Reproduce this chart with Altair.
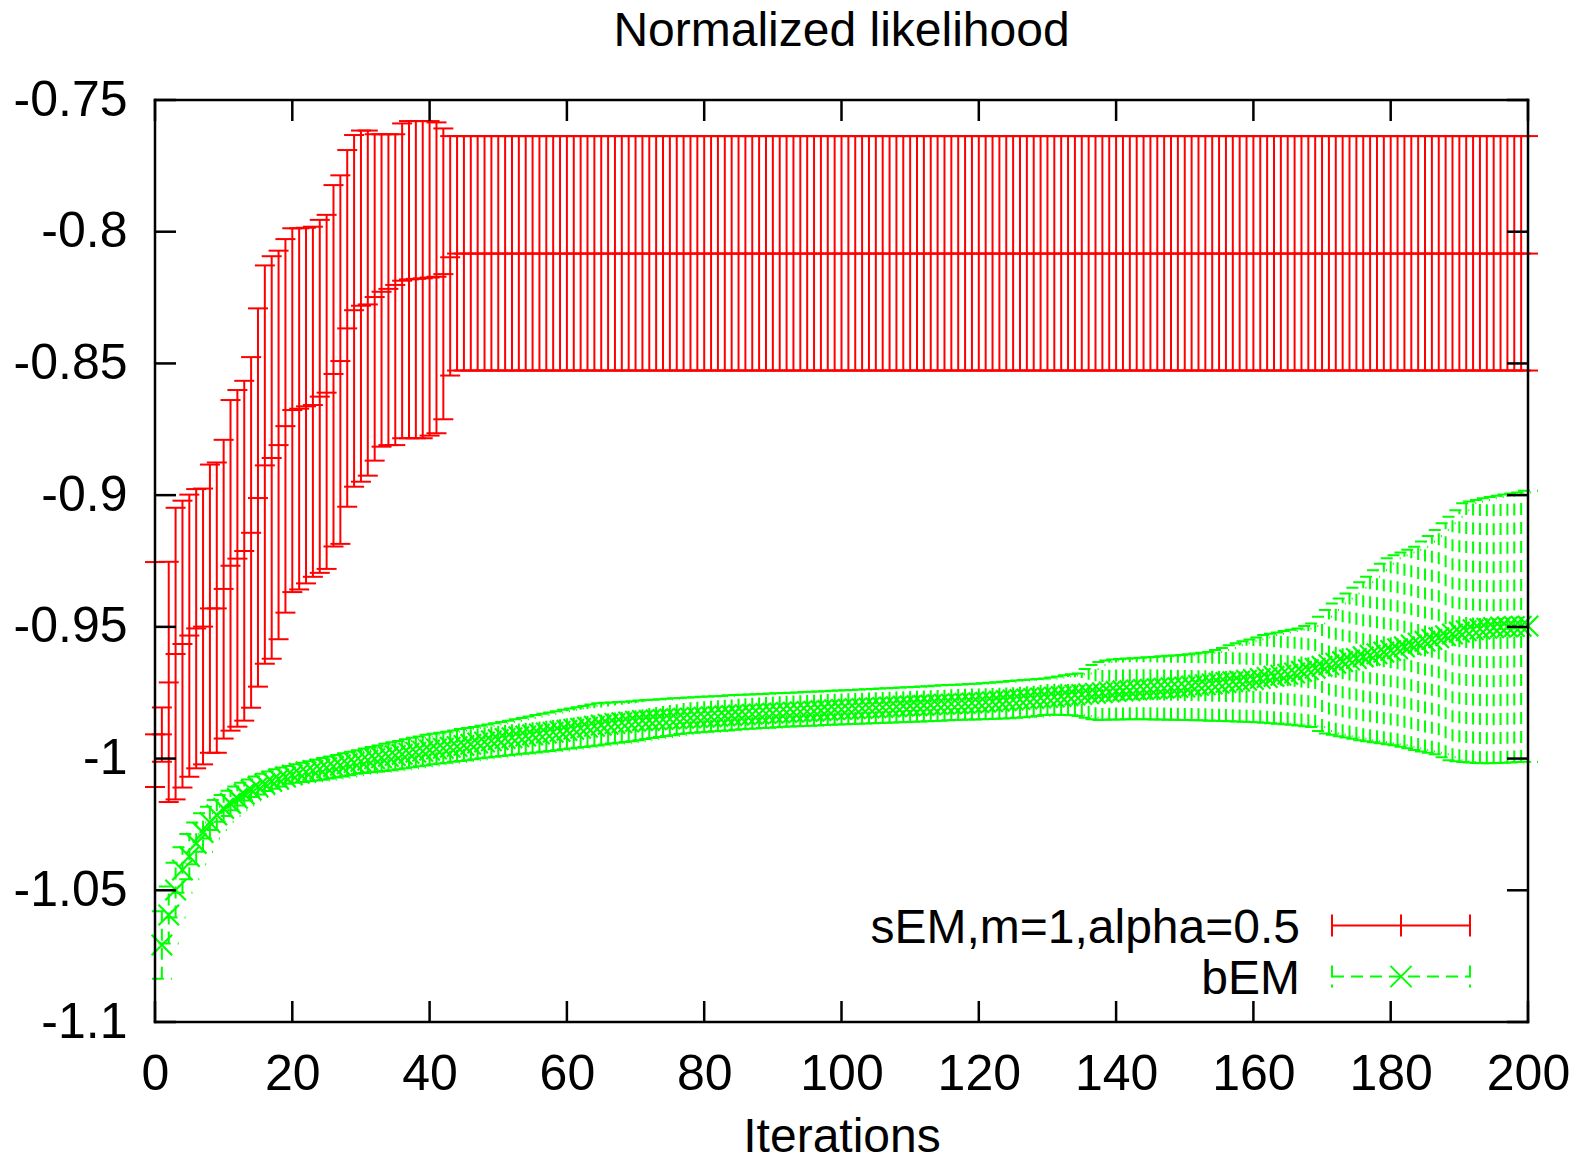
import altair as alt
import pandas as pd

FONT = "Liberation Sans"
RED = "#ff0000"
GREEN = "#00ff00"
TITLE = "Normalized likelihood"
X_TITLE = "Iterations"
SERIES = ["sEM,m=1,alpha=0.5", "bEM"]

X_TICKS = [0, 20, 40, 60, 80, 100, 120, 140, 160, 180, 200]
Y_TICKS = [-1.1, -1.05, -1.0, -0.95, -0.9, -0.85, -0.8, -0.75]
Y_TICK_LABELS = ["-1.1", "-1.05", "-1", "-0.95", "-0.9", "-0.85", "-0.8", "-0.75"]

# ---- sEM (red), iterations 0..200 ----
SEM_ITER = list(range(0, 201))
SEM_MEAN = [
    -0.9908, -0.9908, -0.9711, -0.9603, -0.9565, -0.9533, -0.9506, -0.9499, -0.9430, -0.9430,
    -0.9356, -0.9268, -0.9241, -0.9212, -0.9143, -0.9011, -0.8887, -0.8859, -0.8810, -0.8738,
    -0.8677, -0.8672, -0.8663, -0.8658, -0.8626, -0.8611, -0.8540, -0.8491, -0.8367, -0.8298,
    -0.8281, -0.8276, -0.8248, -0.8228, -0.8217, -0.8202, -0.8186, -0.8181, -0.8179, -0.8177,
    -0.8174, -0.8171, -0.8161, -0.8097,
] + [-0.8083] * 157
SEM_HI = [
    -0.9254, -0.9806, -0.9253, -0.9048, -0.9021, -0.8998, -0.8977, -0.8975, -0.8884, -0.8876,
    -0.8790, -0.8639, -0.8601, -0.8566, -0.8476, -0.8291, -0.8128, -0.8093, -0.8072, -0.8028,
    -0.7987, -0.7987, -0.7985, -0.7981, -0.7955, -0.7936, -0.7823, -0.7786, -0.7690, -0.7633,
    -0.7616, -0.7616, -0.7630, -0.7630, -0.7630, -0.7630, -0.7589, -0.7580, -0.7580, -0.7580,
    -0.7580, -0.7585, -0.7608,
] + [-0.7637] * 158
SEM_LO = [
    -1.0108, -1.0012, -1.0165, -1.0155, -1.0110, -1.0069, -1.0037, -1.0022, -0.9978, -0.9978,
    -0.9924, -0.9894, -0.9879, -0.9856, -0.9807, -0.9727, -0.9640, -0.9621, -0.9547, -0.9446,
    -0.9368, -0.9358, -0.9335, -0.9310, -0.9295, -0.9280, -0.9195, -0.9185, -0.9044, -0.8968,
    -0.8949, -0.8926, -0.8869, -0.8816, -0.8810, -0.8810, -0.8784, -0.8784, -0.8784, -0.8784,
    -0.8774, -0.8765, -0.8712, -0.8546,
] + [-0.8527] * 157

# ---- bEM (green), iterations 1..200 ----
BEM_ITER = list(range(1, 201))
BEM_MEAN = [
    -1.0708, -1.0594, -1.0499, -1.0423, -1.0372, -1.0322, -1.0281, -1.0243, -1.0214, -1.0189,
    -1.0170, -1.0151, -1.0135, -1.0119, -1.0107, -1.0097, -1.0086, -1.0078, -1.0070, -1.0062,
    -1.0056, -1.0051, -1.0045, -1.0040, -1.0035, -1.0030, -1.0025, -1.0020, -1.0015, -1.0010,
    -1.0006, -1.0001, -0.9997, -0.9992, -0.9988, -0.9984, -0.9980, -0.9976, -0.9972, -0.9968,
    -0.9964, -0.9961, -0.9957, -0.9954, -0.9950, -0.9946, -0.9941, -0.9937, -0.9932, -0.9928,
    -0.9924, -0.9921, -0.9917, -0.9914, -0.9910, -0.9907, -0.9903, -0.9900, -0.9896, -0.9893,
    -0.9889, -0.9885, -0.9881, -0.9877, -0.9873, -0.9870, -0.9867, -0.9864, -0.9861, -0.9858,
    -0.9856, -0.9855, -0.9853, -0.9852, -0.9850, -0.9849, -0.9847, -0.9846, -0.9844, -0.9843,
    -0.9841, -0.9840, -0.9838, -0.9837, -0.9835, -0.9834, -0.9832, -0.9831, -0.9829, -0.9828,
    -0.9827, -0.9825, -0.9824, -0.9822, -0.9821, -0.9820, -0.9818, -0.9817, -0.9815, -0.9814,
    -0.9813, -0.9811, -0.9810, -0.9808, -0.9807, -0.9806, -0.9804, -0.9803, -0.9801, -0.9800,
    -0.9799, -0.9798, -0.9797, -0.9795, -0.9794, -0.9793, -0.9792, -0.9791, -0.9789, -0.9788,
    -0.9786, -0.9784, -0.9782, -0.9780, -0.9778, -0.9776, -0.9774, -0.9772, -0.9770, -0.9768,
    -0.9766, -0.9764, -0.9761, -0.9759, -0.9757, -0.9754, -0.9752, -0.9750, -0.9747, -0.9745,
    -0.9743, -0.9742, -0.9740, -0.9738, -0.9737, -0.9735, -0.9733, -0.9731, -0.9730, -0.9728,
    -0.9725, -0.9722, -0.9720, -0.9717, -0.9714, -0.9711, -0.9708, -0.9706, -0.9703, -0.9700,
    -0.9696, -0.9692, -0.9688, -0.9684, -0.9680, -0.9675, -0.9669, -0.9663, -0.9657, -0.9650,
    -0.9644, -0.9638, -0.9632, -0.9626, -0.9620, -0.9614, -0.9608, -0.9602, -0.9596, -0.9590,
    -0.9583, -0.9576, -0.9569, -0.9562, -0.9555, -0.9548, -0.9541, -0.9534, -0.9527, -0.9520,
    -0.9515, -0.9511, -0.9508, -0.9505, -0.9503, -0.9501, -0.9500, -0.9499, -0.9498, -0.9497,
]
BEM_HI = [
    -1.0580, -1.0486, -1.0395, -1.0337, -1.0286, -1.0243, -1.0208, -1.0183, -1.0157, -1.0138,
    -1.0122, -1.0106, -1.0092, -1.0079, -1.0068, -1.0058, -1.0049, -1.0041, -1.0034, -1.0028,
    -1.0022, -1.0016, -1.0010, -1.0004, -0.9998, -0.9992, -0.9986, -0.9980, -0.9974, -0.9968,
    -0.9962, -0.9956, -0.9950, -0.9944, -0.9938, -0.9933, -0.9927, -0.9921, -0.9916, -0.9910,
    -0.9906, -0.9902, -0.9898, -0.9893, -0.9888, -0.9884, -0.9880, -0.9875, -0.9871, -0.9866,
    -0.9861, -0.9856, -0.9851, -0.9846, -0.9840, -0.9835, -0.9830, -0.9825, -0.9820, -0.9815,
    -0.9810, -0.9805, -0.9800, -0.9795, -0.9790, -0.9788, -0.9787, -0.9785, -0.9784, -0.9782,
    -0.9780, -0.9778, -0.9777, -0.9775, -0.9773, -0.9771, -0.9770, -0.9768, -0.9767, -0.9765,
    -0.9764, -0.9763, -0.9762, -0.9760, -0.9759, -0.9758, -0.9757, -0.9756, -0.9755, -0.9753,
    -0.9752, -0.9751, -0.9750, -0.9749, -0.9747, -0.9746, -0.9745, -0.9744, -0.9743, -0.9742,
    -0.9741, -0.9740, -0.9738, -0.9737, -0.9736, -0.9734, -0.9733, -0.9732, -0.9730, -0.9729,
    -0.9728, -0.9726, -0.9725, -0.9724, -0.9722, -0.9721, -0.9720, -0.9719, -0.9717, -0.9716,
    -0.9714, -0.9712, -0.9710, -0.9708, -0.9706, -0.9704, -0.9702, -0.9700, -0.9698, -0.9696,
    -0.9692, -0.9688, -0.9684, -0.9680, -0.9677, -0.9660, -0.9645, -0.9633, -0.9628, -0.9624,
    -0.9622, -0.9620, -0.9619, -0.9617, -0.9615, -0.9614, -0.9612, -0.9610, -0.9609, -0.9607,
    -0.9604, -0.9601, -0.9598, -0.9595, -0.9588, -0.9580, -0.9570, -0.9562, -0.9555, -0.9548,
    -0.9540, -0.9531, -0.9526, -0.9521, -0.9516, -0.9511, -0.9506, -0.9497, -0.9487, -0.9462,
    -0.9436, -0.9411, -0.9392, -0.9373, -0.9352, -0.9331, -0.9310, -0.9285, -0.9260, -0.9240,
    -0.9228, -0.9218, -0.9207, -0.9196, -0.9176, -0.9155, -0.9132, -0.9107, -0.9082, -0.9057,
    -0.9031, -0.9024, -0.9018, -0.9012, -0.9007, -0.9002, -0.8998, -0.8994, -0.8990, -0.8983,
]
BEM_LO = [
    -1.0836, -1.0702, -1.0603, -1.0509, -1.0458, -1.0401, -1.0354, -1.0303, -1.0271, -1.0240,
    -1.0218, -1.0196, -1.0178, -1.0159, -1.0146, -1.0136, -1.0123, -1.0115, -1.0106, -1.0096,
    -1.0092, -1.0089, -1.0086, -1.0083, -1.0080, -1.0076, -1.0072, -1.0068, -1.0063, -1.0058,
    -1.0055, -1.0052, -1.0050, -1.0047, -1.0044, -1.0041, -1.0037, -1.0033, -1.0029, -1.0026,
    -1.0022, -1.0019, -1.0016, -1.0012, -1.0009, -1.0006, -1.0003, -0.9999, -0.9996, -0.9993,
    -0.9990, -0.9987, -0.9985, -0.9982, -0.9980, -0.9977, -0.9974, -0.9971, -0.9968, -0.9965,
    -0.9962, -0.9959, -0.9956, -0.9953, -0.9950, -0.9947, -0.9943, -0.9940, -0.9937, -0.9934,
    -0.9930, -0.9926, -0.9922, -0.9918, -0.9914, -0.9911, -0.9907, -0.9904, -0.9902, -0.9900,
    -0.9898, -0.9896, -0.9894, -0.9893, -0.9891, -0.9889, -0.9887, -0.9886, -0.9884, -0.9883,
    -0.9881, -0.9879, -0.9878, -0.9877, -0.9876, -0.9875, -0.9874, -0.9873, -0.9872, -0.9871,
    -0.9870, -0.9869, -0.9868, -0.9867, -0.9866, -0.9865, -0.9864, -0.9863, -0.9862, -0.9861,
    -0.9860, -0.9859, -0.9858, -0.9857, -0.9856, -0.9855, -0.9854, -0.9853, -0.9852, -0.9852,
    -0.9851, -0.9850, -0.9849, -0.9848, -0.9847, -0.9845, -0.9843, -0.9841, -0.9838, -0.9835,
    -0.9834, -0.9834, -0.9835, -0.9836, -0.9838, -0.9845, -0.9851, -0.9854, -0.9853, -0.9852,
    -0.9852, -0.9851, -0.9851, -0.9851, -0.9851, -0.9852, -0.9852, -0.9853, -0.9853, -0.9854,
    -0.9854, -0.9855, -0.9855, -0.9856, -0.9856, -0.9857, -0.9858, -0.9859, -0.9860, -0.9861,
    -0.9862, -0.9864, -0.9866, -0.9868, -0.9870, -0.9872, -0.9874, -0.9877, -0.9880, -0.9895,
    -0.9905, -0.9910, -0.9915, -0.9920, -0.9925, -0.9930, -0.9934, -0.9938, -0.9942, -0.9946,
    -0.9949, -0.9955, -0.9961, -0.9967, -0.9973, -0.9978, -0.9984, -0.9995, -1.0006, -1.0010,
    -1.0013, -1.0015, -1.0017, -1.0018, -1.0018, -1.0017, -1.0016, -1.0015, -1.0013, -1.0012,
]

assert len(SEM_MEAN) == len(SEM_HI) == len(SEM_LO) == len(SEM_ITER)
assert len(BEM_MEAN) == len(BEM_HI) == len(BEM_LO) == len(BEM_ITER)

# ---- layout (pixels) ----
W, H = 1373, 922
TICK = 21
DASH = [12, 7]
XPATH = "M-1,-1L1,1M-1,1L1,-1"
TICK_FS = 50
TEXT_FS = 48

sem = pd.DataFrame({"iter": SEM_ITER, "mean": SEM_MEAN, "lo": SEM_LO, "hi": SEM_HI})
bem = pd.DataFrame({"iter": BEM_ITER, "mean": BEM_MEAN, "lo": BEM_LO, "hi": BEM_HI})
sem_caps = sem.melt(id_vars="iter", value_vars=["lo", "mean", "hi"], value_name="v")
bem_caps = bem.melt(id_vars="iter", value_vars=["lo", "hi"], value_name="v")

ylab_expr = "''"
for v, lab in zip(Y_TICKS, Y_TICK_LABELS):
    ylab_expr = f"abs(datum.value - ({v})) < 1e-6 ? '{lab}' : " + ylab_expr

XSCALE = alt.Scale(domain=[0, 200], nice=False, zero=False)
YSCALE = alt.Scale(domain=[-1.1, -0.75], nice=False, zero=False)
XAXIS = alt.Axis(values=X_TICKS, format="d", ticks=False, tickSize=0, domain=False, grid=False,
                 labelFont=FONT, labelFontSize=TICK_FS, labelColor="black", labelPadding=27,
                 labelFlush=False, labelOverlap=False,
                 titleFont=FONT, titleFontSize=TEXT_FS, titleFontWeight="normal", titleColor="black",
                 titleBaseline="alphabetic", titleY=129)
YAXIS = alt.Axis(values=Y_TICKS, labelExpr=ylab_expr, ticks=False, tickSize=0, domain=False, grid=False,
                 labelFont=FONT, labelFontSize=TICK_FS, labelColor="black", labelPadding=28,
                 labelFlush=False, labelOverlap=False)


def xenc(field):
    return alt.X(f"{field}:Q", scale=XSCALE, axis=XAXIS, title=X_TITLE)


def yenc(field):
    return alt.Y(f"{field}:Q", scale=YSCALE, axis=YAXIS, title="")


# red error bars
red_bars = alt.Chart(sem).mark_rule(color=RED, strokeWidth=2).encode(
    x=xenc("iter"), y=yenc("lo"), y2="hi:Q")
red_caps = alt.Chart(sem_caps).mark_rule(color=RED, strokeWidth=2, xOffset=-10, x2Offset=10).encode(
    x=xenc("iter"), x2="iter:Q", y=yenc("v"))

# green error bars
green_bars = alt.Chart(bem).mark_rule(color=GREEN, strokeWidth=2, strokeDash=DASH).encode(
    x=xenc("iter"), y=yenc("lo"), y2="hi:Q")
green_caps = alt.Chart(bem_caps).mark_rule(color=GREEN, strokeWidth=2, strokeDash=DASH,
                                           xOffset=-10, x2Offset=10).encode(
    x=xenc("iter"), x2="iter:Q", y=yenc("v"))
green_pts = alt.Chart(bem).mark_point(shape=XPATH, filled=False, size=420, strokeWidth=2.2,
                                      color=GREEN, opacity=1).encode(
    x=xenc("iter"), y=yenc("mean"))

# frame (drawn above the data) and inward tick marks on all four sides
one = pd.DataFrame({"k": [0]})
frame_style = dict(color="black", strokeWidth=2.5, strokeCap="square")
frame = [
    alt.Chart(one).mark_rule(**frame_style).encode(x=alt.value(0), y=alt.value(0), y2=alt.value(H)),
    alt.Chart(one).mark_rule(**frame_style).encode(x=alt.value(W), y=alt.value(0), y2=alt.value(H)),
    alt.Chart(one).mark_rule(**frame_style).encode(y=alt.value(0), x=alt.value(0), x2=alt.value(W)),
    alt.Chart(one).mark_rule(**frame_style).encode(y=alt.value(H), x=alt.value(0), x2=alt.value(W)),
]
ytk = pd.DataFrame({"v": Y_TICKS})
xtk = pd.DataFrame({"v": X_TICKS})
tick_style = dict(color="black", strokeWidth=2.5)
ticks = [
    alt.Chart(ytk).mark_rule(**tick_style).encode(y=yenc("v"), x=alt.value(0), x2=alt.value(TICK)),
    alt.Chart(ytk).mark_rule(**tick_style).encode(y=yenc("v"), x=alt.value(W - TICK), x2=alt.value(W)),
    alt.Chart(xtk).mark_rule(**tick_style).encode(x=xenc("v"), y=alt.value(H - TICK), y2=alt.value(H)),
    alt.Chart(xtk).mark_rule(**tick_style).encode(x=xenc("v"), y=alt.value(0), y2=alt.value(TICK)),
]

# chart title, centred over the plot area
title_layer = alt.Chart(pd.DataFrame({"t": [TITLE]})).mark_text(
    align="center", baseline="alphabetic", font=FONT, fontSize=TEXT_FS, color="black").encode(
    x=alt.value(W / 2), y=alt.value(-54), text="t:N")

# legend (drawn inside plot, bottom-right)
LX0, LX1, LXC = 1177, 1315, 1246
LY_RED, LY_GREEN = 825.5, 876.5
CAPH = 11
leg_layers = []
leg_layers.append(alt.Chart(pd.DataFrame({"label": [SERIES[0]]})).mark_text(
    align="right", baseline="alphabetic", font=FONT, fontSize=TEXT_FS, color="black").encode(
    x=alt.value(1145), y=alt.value(LY_RED + 17.5), text="label:N"))
leg_layers.append(alt.Chart(pd.DataFrame({"label": [SERIES[1]]})).mark_text(
    align="right", baseline="alphabetic", font=FONT, fontSize=TEXT_FS, color="black").encode(
    x=alt.value(1145), y=alt.value(LY_GREEN + 17.5), text="label:N"))
leg_layers.append(alt.Chart(one).mark_rule(color=RED, strokeWidth=2).encode(
    x=alt.value(LX0), x2=alt.value(LX1), y=alt.value(LY_RED)))
for xx in (LX0, LXC, LX1):
    leg_layers.append(alt.Chart(one).mark_rule(color=RED, strokeWidth=2).encode(
        x=alt.value(xx), y=alt.value(LY_RED - CAPH), y2=alt.value(LY_RED + CAPH)))
leg_layers.append(alt.Chart(one).mark_rule(color=GREEN, strokeWidth=2, strokeDash=DASH).encode(
    x=alt.value(LX0), x2=alt.value(LX1), y=alt.value(LY_GREEN)))
for xx in (LX0, LX1):
    leg_layers.append(alt.Chart(one).mark_rule(color=GREEN, strokeWidth=2, strokeDash=DASH).encode(
        x=alt.value(xx), y=alt.value(LY_GREEN - CAPH), y2=alt.value(LY_GREEN + CAPH)))
leg_layers.append(alt.Chart(one).mark_point(shape=XPATH, filled=False, size=450, strokeWidth=2,
                                            color=GREEN, opacity=1).encode(
    x=alt.value(LXC), y=alt.value(LY_GREEN)))

chart = alt.layer(
    red_bars, red_caps, green_bars, green_caps, green_pts,
    *frame, *ticks, title_layer, *leg_layers,
).properties(
    width=W, height=H,
    autosize=alt.AutoSizeParams(type="none"),
    padding={"left": 155, "top": 100, "right": 58, "bottom": 141},
).configure(background="white").configure_view(strokeWidth=0)

chart.save("out.html", embed_options={"renderer": "svg", "actions": False})
